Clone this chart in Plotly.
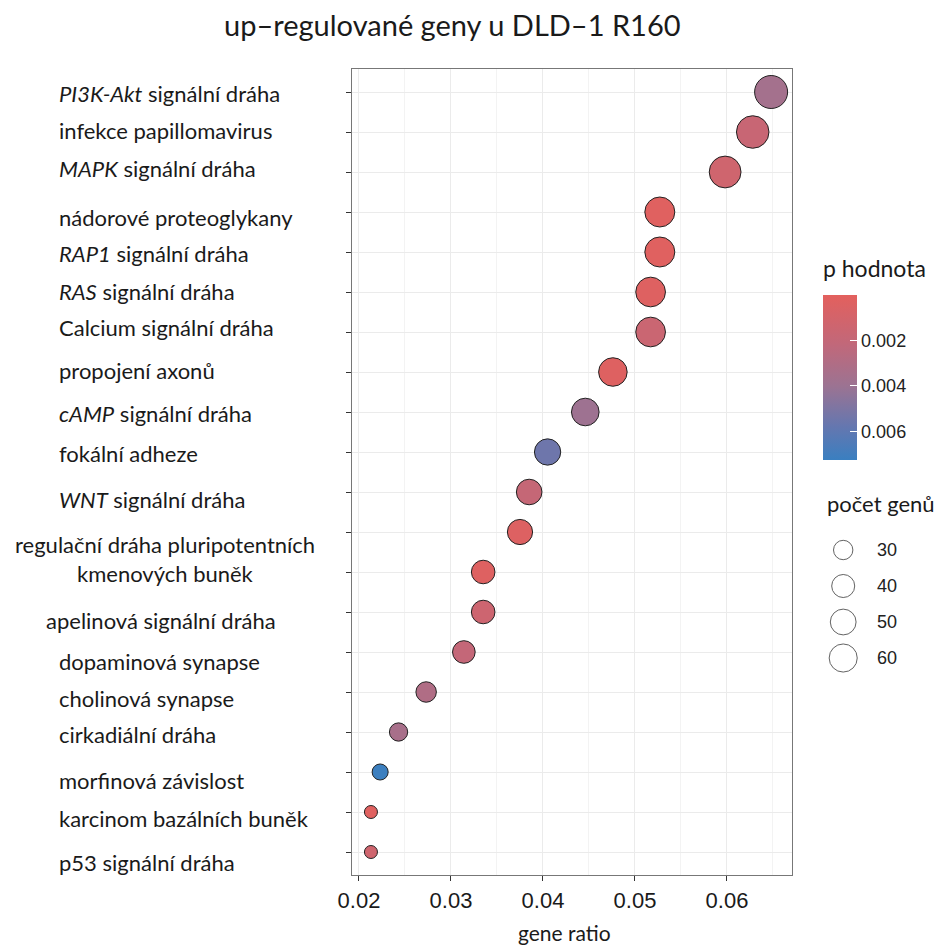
import math
import plotly.graph_objects as go

# ---------------- data ----------------
# one entry per dot, top to bottom
gene_ratio = [0.0648, 0.0628, 0.0598, 0.0527, 0.0527, 0.0517, 0.0517, 0.0476,
              0.0446, 0.0405, 0.0385, 0.0375, 0.0335, 0.0335, 0.0314, 0.0273,
              0.0243, 0.0223, 0.0213, 0.0213]
gene_count = [64, 62, 59, 52, 52, 51, 51, 47, 44, 40, 38, 37, 33, 33, 31, 27,
              24, 22, 21, 21]
p_value = [0.0036, 0.0017, 0.0013, 0.0002, 0.0002, 0.0003, 0.0016, 0.0003,
           0.0039, 0.0055, 0.0019, 0.0004, 0.0003, 0.0014, 0.0020, 0.0030,
           0.0034, 0.0072, 0.0002, 0.0013]

# category labels (as printed on the left)
labels = ["<i>PI3K-Akt</i> signální dráha", "infekce papillomavirus",
          "<i>MAPK</i> signální dráha", "nádorové proteoglykany",
          "<i>RAP1</i> signální dráha", "<i>RAS</i> signální dráha",
          "Calcium signální dráha", "propojení axonů",
          "<i>cAMP</i> signální dráha", "fokální adheze",
          "<i>WNT</i> signální dráha", "regulační dráha pluripotentních",
          "kmenových buněk", "apelinová signální dráha", "dopaminová synapse",
          "cholinová synapse", "cirkadiální dráha", "morfinová závislost",
          "karcinom bazálních buněk", "p53 signální dráha"]

x_ticks = [0.02, 0.03, 0.04, 0.05, 0.06]
x_minor = [0.025, 0.035, 0.045, 0.055, 0.065]
p_ticks = [0.002, 0.004, 0.006]
size_legend = [30, 40, 50, 60]

# ---------------- layout helpers ----------------
W, H = 936, 947
ML, MR, MT, MB = 352, 0, 69, 72
PW = W - ML - MR
PH = H - MT - MB
PLOT_RIGHT = 792


def px_x(px):
    return (px - ML) / PW


def px_y(py):
    return (H - MB - py) / PH


n = len(gene_ratio)
ypos = [n - i for i in range(n)]


def dot_size(c):
    return 14 + 20 * math.sqrt(max(c - 21, 0) / 43) - 1


sizes = [dot_size(c) for c in gene_count]
neg_p = [-p for p in p_value]

colorscale = [[0.0, "#3a7fc0"], [0.2, "#6477b0"], [0.45, "#9c7392"],
              [0.7, "#c1687a"], [1.0, "#e3605d"]]

fig = go.Figure()
fig.add_trace(go.Scatter(
    x=gene_ratio, y=ypos, mode="markers",
    marker=dict(size=sizes, color=neg_p, colorscale=colorscale,
                cmin=-0.00726, cmax=0.0,
                line=dict(color="#222222", width=1),
                opacity=1,
                colorbar=dict(
                    thickness=34, thicknessmode="pixels",
                    len=165, lenmode="pixels",
                    x=px_x(823), xanchor="left",
                    y=px_y(377.5), yanchor="middle",
                    xpad=0, ypad=0, outlinewidth=0,
                    tickvals=[-t for t in p_ticks],
                    ticktext=["%.3f" % t for t in p_ticks],
                    ticks="inside", ticklen=7, tickcolor="white", tickwidth=1,
                    tickfont=dict(family="Liberation Sans", size=18, color="#222"),
                )),
    showlegend=False, hoverinfo="skip", xaxis="x", yaxis="y"))

# size legend (custom, own small axis)
leg_idx = list(range(len(size_legend)))
leg_sizes = [0.88 * (dot_size(v) + 1) - 1 for v in size_legend]
fig.add_trace(go.Scatter(
    x=[0.2] * len(size_legend), y=leg_idx, mode="markers",
    marker=dict(size=leg_sizes, color="white",
                line=dict(color="#222222", width=1)),
    showlegend=False, hoverinfo="skip", xaxis="x3", yaxis="y3"))

fig.update_layout(
    width=W, height=H,
    margin=dict(l=ML, r=MR, t=MT, b=MB),
    paper_bgcolor="white", plot_bgcolor="white",
    font=dict(family="Lato", color="#1a1a1a"),
    xaxis=dict(domain=[0, px_x(PLOT_RIGHT)], range=[0.01924, 0.06707],
               tickvals=x_ticks, ticktext=["%.2f" % t for t in x_ticks],
               ticks="outside", ticklen=5, tickcolor="#333", tickwidth=1,
               tickfont=dict(family="Liberation Sans", size=22, color="#1a1a1a"),
               showgrid=True, gridcolor="#ebebeb", gridwidth=1.3,
               minor=dict(tickvals=x_minor, showgrid=True,
                          gridcolor="#f3f3f3", gridwidth=1, ticks=""),
               showline=True, linecolor="#777", linewidth=1.2, mirror=True,
               zeroline=False, fixedrange=True),
    yaxis=dict(range=[0.425, n + 0.575], tickvals=ypos,
               ticktext=[""] * n, ticks="outside", ticklen=5,
               tickcolor="#333", tickwidth=1,
               showgrid=True, gridcolor="#ebebeb", gridwidth=1.3,
               showline=True, linecolor="#777", linewidth=1.2, mirror=True,
               zeroline=False, fixedrange=True),
    xaxis3=dict(domain=[px_x(820), 1.0], range=[0, 1], visible=False,
                fixedrange=True),
    yaxis3=dict(domain=[px_y(680), px_y(530)], range=[3.611, -0.556],
                visible=False, fixedrange=True, anchor="x3"),
)
fig.data[1].update(xaxis="x3", yaxis="y3")

ann = []
# category labels
label_y = [19.975, 19.05, 18.1, 16.875, 15.975, 15.025, 14.125, 13.05,
           11.975, 10.975, 9.825, 8.7, 7.975, 6.8, 5.775, 4.85, 3.95, 2.8,
           1.85, 0.75]
label_px = [57] * len(labels)
label_anchor = ["left"] * len(labels)
label_px[11] = 165
label_anchor[11] = "center"
label_px[12] = 165
label_anchor[12] = "center"
label_px[13] = 44
for t, yy, xx, an in zip(labels, label_y, label_px, label_anchor):
    ann.append(dict(text=t, x=px_x(xx), xref="paper", y=yy, yref="y",
                    xanchor=an, yanchor="middle", showarrow=False,
                    font=dict(family="Lato", size=22, color="#1a1a1a")))

# title
ann.append(dict(text="up–regulované geny u DLD–1 R160", x=px_x(452),
                xref="paper", y=px_y(24), yref="paper", xanchor="center",
                yanchor="middle", showarrow=False,
                font=dict(family="Lato", size=29, color="#1a1a1a")))
# x-axis title
ann.append(dict(text="gene ratio", x=px_x(564), xref="paper", y=px_y(947),
                yref="paper", xanchor="center", yanchor="bottom",
                showarrow=False,
                font=dict(family="Lato", size=21, color="#1a1a1a")))
# legend titles
ann.append(dict(text="p hodnota", x=px_x(821), xref="paper", y=px_y(268),
                yref="paper", xanchor="left", yanchor="middle",
                showarrow=False,
                font=dict(family="Lato", size=23, color="#1a1a1a")))
ann.append(dict(text="počet genů", x=px_x(825), xref="paper", y=px_y(503),
                yref="paper", xanchor="left", yanchor="middle",
                showarrow=False,
                font=dict(family="Lato", size=22, color="#1a1a1a")))
# size legend labels
for i, v in zip(leg_idx, size_legend):
    ann.append(dict(text=str(v), x=0.47, xref="x3", y=i, yref="y3",
                    xanchor="left", yanchor="middle", showarrow=False,
                    font=dict(family="Liberation Sans", size=18, color="#222")))

fig.update_layout(annotations=ann)
fig.write_html("out.html")
